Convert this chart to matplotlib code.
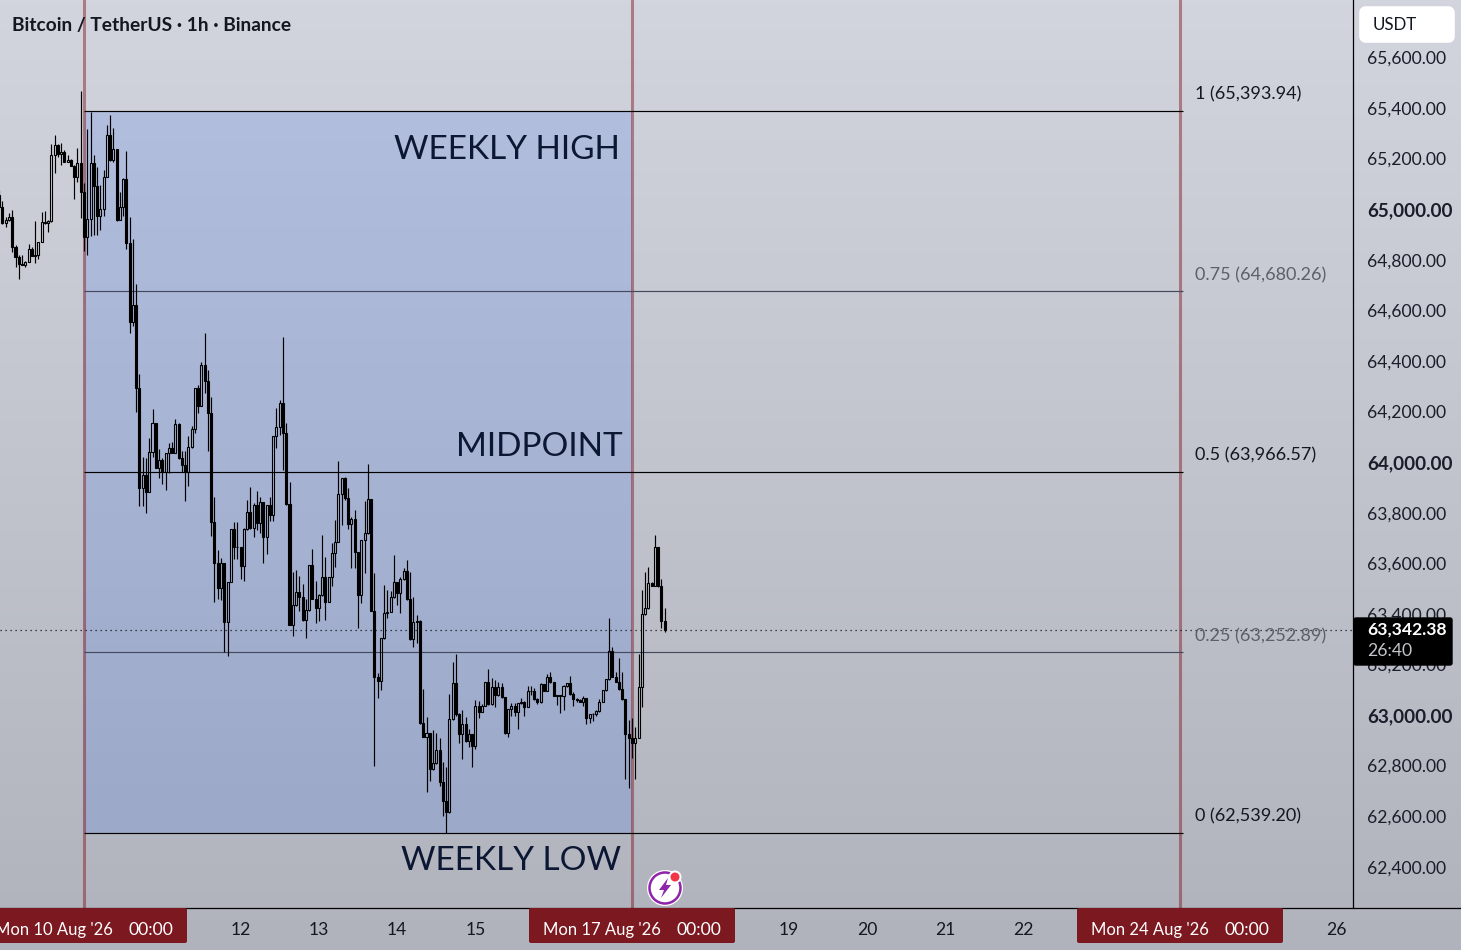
import matplotlib
matplotlib.use('Agg')
import matplotlib.pyplot as plt
import numpy as np
from matplotlib.patches import Rectangle, FancyBboxPatch, Circle, Polygon
from matplotlib.transforms import blended_transform_factory

plt.rcParams['font.family'] = ['Lato', 'Noto Sans', 'DejaVu Sans']

# hourly candles, first one is bar -26 (bar 0 = Mon 10 Aug 00:00)
first_open = 65062
closes = [65013, 64950, 64963, 64973, 64857, 64818, 64788, 64787, 64798, 64847, 64822, 64823, 64875,
          64956, 64950, 64958, 65219, 65258, 65224, 65232, 65194, 65200, 65178, 65134, 65190, 65075,
          64897, 64966, 65187, 65099, 64980, 65005, 65132, 65298, 65200, 65242, 64963, 65013, 65124,
          64871, 64561, 64626, 64298, 63902, 63955, 63886, 64044, 64159, 63984, 64014, 63965, 64040,
          64060, 64043, 64155, 64021, 63994, 63965, 64064, 64135, 64297, 64229, 64388, 64328, 64199,
          63768, 63608, 63509, 63608, 63372, 63533, 63740, 63671, 63669, 63595, 63740, 63810, 63744,
          63836, 63766, 63849, 63711, 63835, 63795, 64108, 64143, 64238, 64119, 63839, 63363, 63439,
          63491, 63471, 63381, 63420, 63598, 63466, 63430, 63479, 63553, 63454, 63550, 63645, 63691,
          63878, 63942, 63865, 63761, 63779, 63649, 63482, 63698, 63724, 63858, 63418, 63157, 63141,
          63309, 63408, 63414, 63471, 63530, 63489, 63542, 63575, 63463, 63306, 63372, 63379, 62973,
          62920, 62936, 62791, 62815, 62867, 62739, 62667, 62621, 62989, 63131, 63010, 62929, 62969,
          62904, 62929, 62884, 63043, 63019, 63043, 63135, 63049, 63118, 63085, 63115, 63076, 62933,
          63028, 63041, 63019, 63052, 63058, 63039, 63101, 63099, 63068, 63056, 63127, 63102, 63157,
          63135, 63082, 63083, 63082, 63120, 63131, 63087, 63068, 63067, 63058, 63072, 62993, 63008,
          63008, 63021, 63058, 63103, 63147, 63257, 63157, 63137, 63107, 63068, 62929, 62913, 62896,
          62916, 63115, 63405, 63427, 63529, 63517, 63669, 63516, 63379, 63342.38]
highs = [65082, 65039, 64976, 64989, 65002, 64864, 64825, 64825, 64801, 64868, 64858, 64959, 64875,
         64995, 65000, 64963, 65263, 65299, 65263, 65266, 65240, 65220, 65203, 65180, 65246, 65473,
         65108, 65321, 65391, 65220, 65171, 65100, 65161, 65339, 65378, 65325, 65244, 65072, 65128,
         65236, 64975, 64888, 64710, 64354, 64027, 64021, 64102, 64216, 64159, 64056, 64021, 64040,
         64080, 64084, 64176, 64162, 64051, 64051, 64109, 64148, 64297, 64309, 64400, 64515, 64370,
         64262, 63868, 63658, 63625, 63608, 63533, 63740, 63768, 63768, 63669, 63744, 63856, 63906,
         63845, 63890, 63866, 63849, 63836, 63866, 64108, 64218, 64251, 64499, 64159, 63926, 63571,
         63579, 63555, 63524, 63463, 63599, 63662, 63537, 63483, 63717, 63629, 63553, 63685, 63777,
         64010, 63942, 63948, 63905, 63787, 63816, 63652, 63698, 63852, 64000, 63858, 63566, 63173,
         63311, 63520, 63500, 63497, 63638, 63530, 63553, 63586, 63619, 63572, 63471, 63401, 63381,
         63108, 62999, 62936, 62946, 62936, 62913, 62821, 62799, 63087, 63215, 63247, 63012, 63025,
         62999, 62949, 62929, 63065, 63062, 63049, 63138, 63186, 63153, 63144, 63135, 63131, 63078,
         63031, 63052, 63052, 63054, 63072, 63062, 63120, 63120, 63114, 63072, 63131, 63128, 63168,
         63177, 63138, 63085, 63085, 63123, 63134, 63160, 63095, 63072, 63070, 63081, 63074, 63011,
         63012, 63025, 63068, 63105, 63149, 63388, 63276, 63177, 63230, 63177, 63069, 62986, 62993,
         62960, 63247, 63500, 63573, 63592, 63533, 63717, 63671, 63542, 63427]
lows = [65009, 64948, 64937, 64960, 64838, 64778, 64730, 64785, 64778, 64798, 64821, 64794, 64809,
        64875, 64947, 64917, 64956, 65150, 65211, 65180, 65192, 65192, 65176, 65047, 65115, 64972,
        64842, 64825, 64900, 64904, 64904, 64923, 64979, 65132, 65198, 65194, 64959, 64963, 64979,
        64848, 64517, 64545, 64205, 63833, 63833, 63806, 63886, 64025, 63981, 63944, 63919, 63895,
        63961, 64040, 64043, 64018, 63965, 63852, 63913, 64062, 64122, 64201, 64228, 64278, 64051,
        63715, 63454, 63463, 63460, 63254, 63240, 63532, 63624, 63624, 63545, 63537, 63737, 63741,
        63711, 63737, 63727, 63608, 63642, 63773, 63773, 64060, 64113, 63974, 63836, 63360, 63319,
        63437, 63418, 63378, 63311, 63418, 63463, 63371, 63377, 63476, 63381, 63451, 63517, 63592,
        63688, 63757, 63856, 63741, 63588, 63588, 63351, 63450, 63568, 63721, 63416, 62805, 63074,
        63104, 63306, 63391, 63412, 63468, 63441, 63408, 63540, 63460, 63304, 63276, 63289, 62970,
        62917, 62703, 62745, 62788, 62812, 62726, 62608, 62540, 62618, 62986, 63003, 62896, 62832,
        62900, 62878, 62801, 62870, 62995, 63016, 63040, 63045, 63045, 63039, 63082, 63073, 62931,
        62920, 63002, 63002, 62949, 63049, 63000, 63036, 63085, 63065, 63049, 63053, 63099, 63099,
        63132, 63079, 63045, 63015, 63025, 63115, 63085, 63041, 63058, 63056, 63041, 62970, 62973,
        62983, 63000, 63019, 63056, 63101, 63144, 63155, 63135, 63105, 63065, 62753, 62718, 62834,
        62753, 62913, 63039, 63402, 63425, 63514, 63514, 63513, 63348, 63335]

fib_levels = ['1', '0.75', '0.5', '0.25', '0']
fib_prices = [65393.94, 64680.26, 63966.57, 63252.89, 62539.20]
fib_colors = ['#000000', '#434a5e', '#000000', '#434a5e', '#000000']
fib_text_colors = ['#131722', '#5d606b', '#131722', '#5d606b', '#131722']

price_ticks = [65600, 65400, 65200, 65000, 64800, 64600, 64400, 64200, 64000,
               63800, 63600, 63400, 63200, 63000, 62800, 62600, 62400]
bold_ticks = [65000, 64000, 63000]
day_labels = ['12', '13', '14', '15', '19', '20', '21', '22', '26']
day_bars = [48, 72, 96, 120, 216, 240, 264, 288, 384]
week_labels = ["Mon 10 Aug '26", "Mon 17 Aug '26", "Mon 24 Aug '26"]
week_bars = [0, 168, 336]
last_price = 63342.38

W, H = 1461, 950
PX_PER_BAR = 548 / 168
PX_PER_USD = 722 / (65393.94 - 62539.20)
DARK_RED = '#7b1820'
FS = 12.6

fig = plt.figure(figsize=(W / 100, H / 100), dpi=100)

# background gradient
bg = fig.add_axes([0, 0, 1, 1], zorder=0)
grad = np.linspace(0, 1, 256).reshape(-1, 1, 1)
top = np.array([0xd2, 0xd5, 0xdd]) / 255
bottom = np.array([0xb0, 0xb3, 0xbc]) / 255
bg.imshow(top + (bottom - top) * grad, aspect='auto', extent=(0, 1, 0, 1))
bg.axis('off')

# price chart area
ax = fig.add_axes([0, 42 / H, 1353 / W, 908 / H], zorder=1)
ax.patch.set_alpha(0)
ax.set_xlim(-84 / PX_PER_BAR, (1353 - 84) / PX_PER_BAR)
ax.set_ylim(65393.94 - (908 - 111) / PX_PER_USD, 65393.94 + 111 / PX_PER_USD)
ax.axis('off')

# weekly range box
ax.add_patch(Rectangle((0, fib_prices[-1]), 168, fib_prices[0] - fib_prices[-1],
                       facecolor='#4171ed', alpha=0.2, edgecolor='none', zorder=1))
for b in week_bars:
    ax.axvline(b, color='#80181f', alpha=0.47, lw=2.2, zorder=2)

# levels run past the last vertical a little
for p, c in zip(fib_prices, fib_colors):
    ax.plot([0, 337], [p, p], color=c, lw=0.85, zorder=3, solid_capstyle='butt')

ax.axhline(last_price, color='#131722', lw=0.9, ls=(0, (1, 3)), zorder=3)

# candles
closes = np.array(closes, dtype=float)
highs = np.array(highs, dtype=float)
lows = np.array(lows, dtype=float)
opens = np.r_[first_open, closes[:-1]]
bars = np.arange(len(closes)) - 26
body_top = np.maximum(opens, closes)
body_bot = np.minimum(opens, closes)
ax.vlines(bars, body_top, highs, color='black', lw=0.85, zorder=4)
ax.vlines(bars, lows, body_bot, color='black', lw=0.85, zorder=4)
up = closes >= opens
ax.bar(bars[up], (body_top - body_bot)[up], bottom=body_bot[up], width=0.62,
       facecolor='none', edgecolor='black', lw=0.8, zorder=5)
ax.bar(bars[~up], (body_top - body_bot)[~up], bottom=body_bot[~up], width=0.62,
       facecolor='black', edgecolor='black', lw=0.8, zorder=5)

# everything else in pixel coordinates
ov = fig.add_axes([0, 0, 1, 1], zorder=2)
ov.patch.set_alpha(0)
ov.set_xlim(0, W)
ov.set_ylim(H, 0)
ov.axis('off')
px_price = blended_transform_factory(ov.transData, ax.transData)
bar_px = blended_transform_factory(ax.transData, ov.transData)

ov.plot([1353, 1353], [0, 908], color='black', lw=0.9)
ov.plot([0, W], [908, 908], color='black', lw=0.9)

ov.text(12, 25, 'Bitcoin / TetherUS · 1h · Binance', fontsize=13.8, fontweight='bold',
        color='#131722', va='center')
ov.add_patch(FancyBboxPatch((1362, 9), 90, 31, boxstyle='round,pad=0,rounding_size=4',
                            facecolor='white', edgecolor='white', lw=4))
ov.text(1373, 25, 'USDT', fontsize=FS - 0.4, color='#131722', va='center')

for t in price_ticks:
    if t in bold_ticks:
        ov.text(1367, t, f'{t:,.2f}', transform=px_price, fontsize=13.6, va='center', color='#1a1e2b',
                fontweight='bold', zorder=2)
    else:
        ov.text(1367, t, f'{t:,.2f}', transform=px_price, fontsize=FS, va='center', color='#1a1e2b',
                zorder=2)

# fib labels
for lev, p, c in zip(fib_levels, fib_prices, fib_text_colors):
    ov.text(1195, p + 16.5 / PX_PER_USD, f'{lev} ({p:,.2f})', transform=px_price, fontsize=13,
            color=c, zorder=2, va='center', ha='left')

# notes
big = dict(fontsize=24, color='#0c1733', ha='right', va='center', zorder=3)
ov.text(620, 150, 'WEEKLY HIGH', **big)
ov.text(623, 447, 'MIDPOINT', **big)
ov.text(621, 861, 'WEEKLY LOW', **big)

# last price tag
ov.add_patch(FancyBboxPatch((1354, 618), 98, 47, boxstyle='round,pad=0,rounding_size=2',
                            facecolor='black', edgecolor='black', lw=1, zorder=5))
ov.text(1367, 630, f'{last_price:,.2f}', fontsize=FS, fontweight='bold', color='white',
        va='center', zorder=6)
ov.text(1367, 651, '26:40', fontsize=FS, color='#c3c5cb', va='center', zorder=6)

# time axis
for b, lab in zip(week_bars, week_labels):
    ov.add_patch(FancyBboxPatch((b * PX_PER_BAR + 84 - 103, 908), 206, 35,
                                boxstyle='round,pad=0,rounding_size=2',
                                facecolor=DARK_RED, edgecolor='none', zorder=4))
    ov.text(b + 29 / PX_PER_BAR, 930, lab, transform=bar_px, fontsize=12, color='white',
            ha='right', va='center', zorder=5)
    ov.text(b + 89.5 / PX_PER_BAR, 930, '00:00', transform=bar_px, fontsize=FS, color='white',
            ha='right', va='center', zorder=5)
for b, lab in zip(day_bars, day_labels):
    ov.text(b, 930, lab, transform=bar_px, fontsize=FS, color='#131722', ha='center', va='center')

# little flash icon
ov.add_patch(Circle((665, 888), 18, facecolor='white', edgecolor='none', zorder=6))
ov.add_patch(Circle((665, 888), 15.5, facecolor='white', edgecolor='#8e24aa', lw=1.8, zorder=7))
ov.add_patch(Polygon([(668, 878), (659, 890), (664, 890), (661, 898), (671, 885), (666, 885)],
                     closed=True, facecolor='#8e24aa', edgecolor='none', zorder=8))
ov.add_patch(Circle((675, 877), 6.5, facecolor='white', edgecolor='none', zorder=8))
ov.add_patch(Circle((675, 877), 4.5, facecolor='#f23645', edgecolor='none', zorder=9))

fig.savefig('out.png', dpi=100)
